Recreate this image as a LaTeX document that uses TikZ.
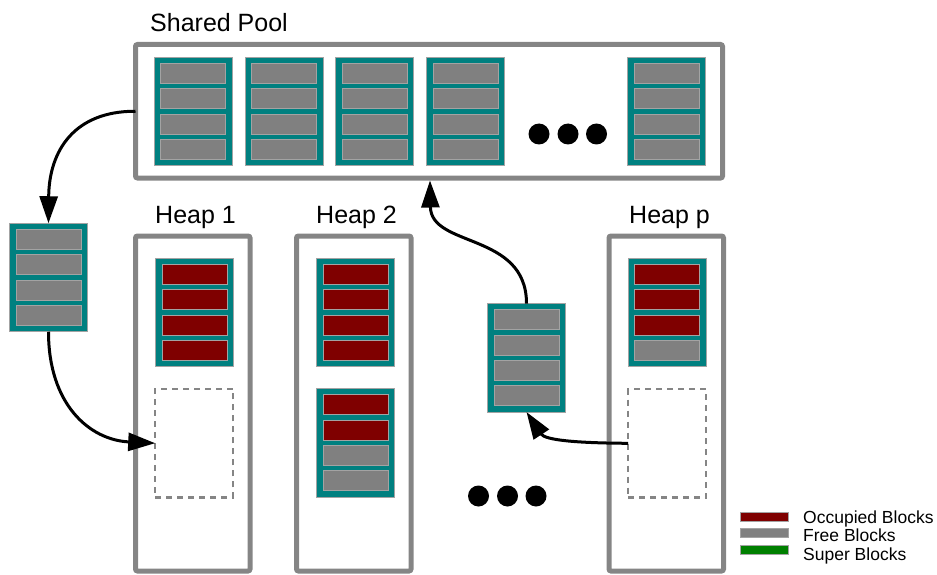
\documentclass[tikz,border=0pt]{standalone}
\usepackage{fontspec}
\setmainfont{Liberation Sans}
\usetikzlibrary{arrows.meta,calc}

\definecolor{blockteal}{HTML}{008080}
\definecolor{freegray}{HTML}{808080}
\definecolor{occred}{HTML}{7F0000}
\definecolor{supergreen}{HTML}{008000}
\definecolor{framegray}{HTML}{858585}
\definecolor{edgegray}{HTML}{A3A3A3}

\tikzset{
  blockbox/.style={draw=edgegray, line width=0.8pt, fill=blockteal,
    minimum width=78pt, minimum height=108.5pt, inner sep=0pt, outer sep=0pt},
  rowbox/.style={draw=edgegray, line width=0.8pt, minimum width=65pt,
    minimum height=20pt, inner sep=0pt},
  occ/.style={rowbox, fill=occred},
  free/.style={rowbox, fill=freegray},
  frame/.style={draw=framegray, line width=5pt, rounded corners=2pt,
    inner sep=0pt, outer sep=0pt},
  slot/.style={draw=framegray, line width=2.2pt, dash pattern=on 6pt off 5pt,
    minimum width=78pt, minimum height=108.5pt, inner sep=0pt, outer sep=0pt},
  flow/.style={line width=3pt, -{Triangle[length=27pt,width=18pt]}},
  dot/.style={circle, fill=black, minimum size=21pt, inner sep=0pt},
  title/.style={font=\fontsize{25}{30}\selectfont, inner sep=0pt, anchor=base west},
  legtext/.style={font=\fontsize{17.5}{20}\selectfont, inner sep=0pt, anchor=base west},
  swatch/.style={draw=edgegray, line width=0.6pt, minimum width=47.5pt,
    minimum height=9.5pt, inner sep=0pt},
}

% four stacked rows inside a super block
\newcommand\blockrows[5]{%
  \node[#2] (#1-1) at ($(#1.center)+(0,-37.95)$) {};
  \node[#3] (#1-2) at ($(#1.center)+(0,-12.65)$) {};
  \node[#4] (#1-3) at ($(#1.center)+(0,12.65)$) {};
  \node[#5] (#1-4) at ($(#1.center)+(0,37.95)$) {};
}

\begin{document}
\begin{tikzpicture}[x=1pt,y=-1pt]
  \useasboundingbox (0,0) rectangle (937,575);

  % shared pool
  \node[frame, minimum width=587pt, minimum height=133.5pt] (pool) at (429,111.25) {};
  \node[title] (pooltitle) at (150,32) {Shared Pool};
  \foreach \n/\x in {p1/193.3, p2/284, p3/374.8, p4/465.5, p5/666.4} {
    \node[blockbox] (\n) at (\x,111.3) {};
    \blockrows{\n}{free}{free}{free}{free}
  }
  \node[dot] (pd1) at (539,134) {};
  \node[dot] (pd2) at (568,134) {};
  \node[dot] (pd3) at (596.5,134) {};

  % heaps
  \node[frame, minimum width=114.5pt, minimum height=335pt] (heap1) at (192.75,403.5) {};
  \node[frame, minimum width=114.5pt, minimum height=335pt] (heap2) at (353.75,403.5) {};
  \node[frame, minimum width=114.5pt, minimum height=335pt] (heapp) at (666.25,403.5) {};
  \node[title] (h1title) at (155,223.3) {Heap 1};
  \node[title] (h2title) at (316,223.3) {Heap 2};
  \node[title] (hptitle) at (629,223.3) {Heap p};

  \node[blockbox] (h1a) at (194.5,312.5) {};
  \blockrows{h1a}{occ}{occ}{occ}{occ}
  \node[slot] (slot1) at (194.2,443.2) {};

  \node[blockbox] (h2a) at (355.5,312.5) {};
  \blockrows{h2a}{occ}{occ}{occ}{occ}
  \node[blockbox] (h2b) at (355.5,442.8) {};
  \blockrows{h2b}{occ}{occ}{free}{free}

  \node[blockbox] (hpa) at (666.9,312.5) {};
  \blockrows{hpa}{occ}{occ}{occ}{free}
  \node[slot] (slotp) at (667,443.3) {};

  \node[dot] (hd1) at (478.5,496) {};
  \node[dot] (hd2) at (507.5,496) {};
  \node[dot] (hd3) at (536,496) {};

  % blocks in transit
  \node[blockbox] (moveL) at (48.5,277.5) {};
  \blockrows{moveL}{free}{free}{free}{free}
  \node[blockbox] (moveM) at (526.5,357.8) {};
  \blockrows{moveM}{free}{free}{free}{free}

  % transfers
  \coordinate (poolin) at (430,180.5);
  \draw[flow] (pool.west) .. controls (75,111) and (49,150) .. (moveL.north);
  \draw[flow] (moveL.south) .. controls (48.5,405) and (90,440) .. (slot1.west);
  \draw[flow] (moveM.north) .. controls (526.5,232) and (431,248) .. (poolin);
  \draw[flow] (slotp.west) .. controls (575,443) and (545,440) .. (moveM.south);

  % legend
  \node[swatch, fill=occred] (legocc) at (764.5,517) {};
  \node[swatch, fill=freegray] (legfree) at (764.5,533) {};
  \node[swatch, fill=supergreen] (legsuper) at (764.5,549.7) {};
  \node[legtext] (legocct) at (803,523) {Occupied Blocks};
  \node[legtext] (legfreet) at (803,541.5) {Free Blocks};
  \node[legtext] (legsupert) at (803,560) {Super Blocks};
\end{tikzpicture}
\end{document}
